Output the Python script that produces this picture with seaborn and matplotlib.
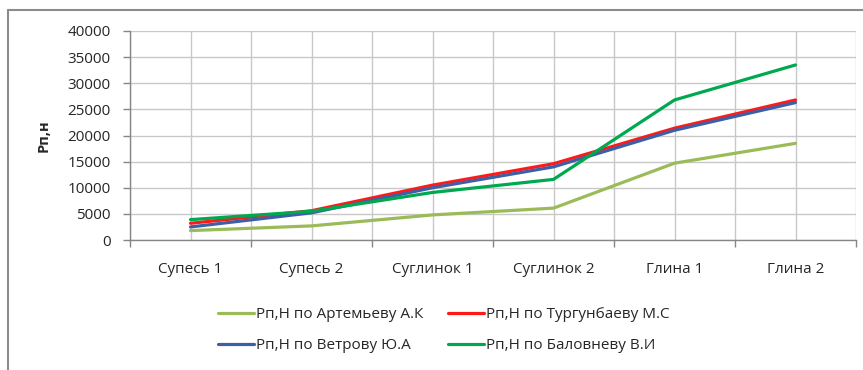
import matplotlib
matplotlib.use("Agg")
from matplotlib import pyplot as plt
from matplotlib.lines import Line2D
from matplotlib.ticker import MultipleLocator, FixedLocator, NullFormatter
import seaborn as sns
import pandas as pd

soils = ['Супесь 1', 'Супесь 2', 'Суглинок 1', 'Суглинок 2', 'Глина 1', 'Глина 2']
artemyev = [1800, 2700, 4800, 6100, 14700, 18500]
turgunbaev = [3200, 5600, 10500, 14600, 21400, 26800]
vetrov = [2500, 5200, 10000, 14000, 21000, 26300]
balovnev = [3900, 5500, 9100, 11600, 26800, 33500]

names = ['Рп,Н по Артемьеву А.К', 'Рп,Н по Тургунбаеву М.С',
         'Рп,Н по Ветрову Ю.А', 'Рп,Н по Баловневу В.И']
colors = ['#9BBB59', '#FF1A1A', '#3D5FA6', '#00A84F']

sns.set_style('white')
plt.rcParams['font.family'] = ['Open Sans', 'DejaVu Sans']
plt.rcParams['font.size'] = 11

rows = []
for name, vals in zip(names, [artemyev, turgunbaev, vetrov, balovnev]):
    for i, v in enumerate(vals):
        rows.append({'pos': i, 'soil': soils[i], 'Rp': v, 'series': name})
df = pd.DataFrame(rows)

fig = plt.figure(figsize=(8.63, 3.70), dpi=100)
ax = fig.add_axes([130 / 863, 1 - 240 / 370, 726 / 863, 209 / 370])

sns.lineplot(data=df, x='pos', y='Rp', hue='series', hue_order=names,
             palette=dict(zip(names, colors)), linewidth=2.3, legend=False,
             sort=False, ax=ax)

ax.set_xlim(-0.5, 5.5)
ax.set_ylim(0, 40000)
ax.yaxis.set_major_locator(MultipleLocator(5000))

# ticks at category boundaries, labels at centres
ax.xaxis.set_major_locator(FixedLocator([x - 0.5 for x in range(7)]))
ax.xaxis.set_major_formatter(NullFormatter())
ax.xaxis.set_minor_locator(FixedLocator(range(6)))
ax.set_xticklabels(soils, minor=True)
ax.tick_params(axis='x', which='major', direction='out', length=5, width=1, color='#868686', bottom=True)
ax.tick_params(axis='x', which='minor', length=0, pad=16, labelsize=11, labelcolor='#262626')
ax.tick_params(axis='y', direction='out', length=5, width=1, color='#868686', left=True,
               labelsize=11, labelcolor='#262626', pad=9)

ax.grid(True, which='major', color='#C8C8C8', linewidth=1)
ax.grid(True, which='minor', axis='x', color='#C8C8C8', linewidth=1)
ax.set_axisbelow(True)

for s in ['top', 'right']:
    ax.spines[s].set_visible(False)
for s in ['left', 'bottom']:
    ax.spines[s].set_color('#868686')
    ax.spines[s].set_linewidth(1)

ax.set_xlabel('')
ax.set_ylabel('Рп,н', fontweight='bold', fontsize=10.5, color='#262626')
ax.yaxis.set_label_coords(-0.11, 0.5)

handles = [Line2D([0], [0], color=c, lw=2.3) for c in colors]
order = [0, 2, 1, 3]
fig.legend([handles[i] for i in order], [names[i] for i in order], ncol=2,
           loc='center', bbox_to_anchor=(0.514, 0.107), frameon=False,
           handlelength=2.35, handletextpad=0.15, columnspacing=1.6,
           labelspacing=1.05, fontsize=11)

# outer chart frame
fig.add_artist(Line2D([8 / 863, 8 / 863], [0, 1 - 10 / 370], color='#8C8C8C', lw=1.5,
                      transform=fig.transFigure))
fig.add_artist(Line2D([8 / 863, 1], [1 - 10 / 370, 1 - 10 / 370], color='#8C8C8C', lw=1.5,
                      transform=fig.transFigure))

plt.savefig('out.png', dpi=100)
plt.close(fig)
